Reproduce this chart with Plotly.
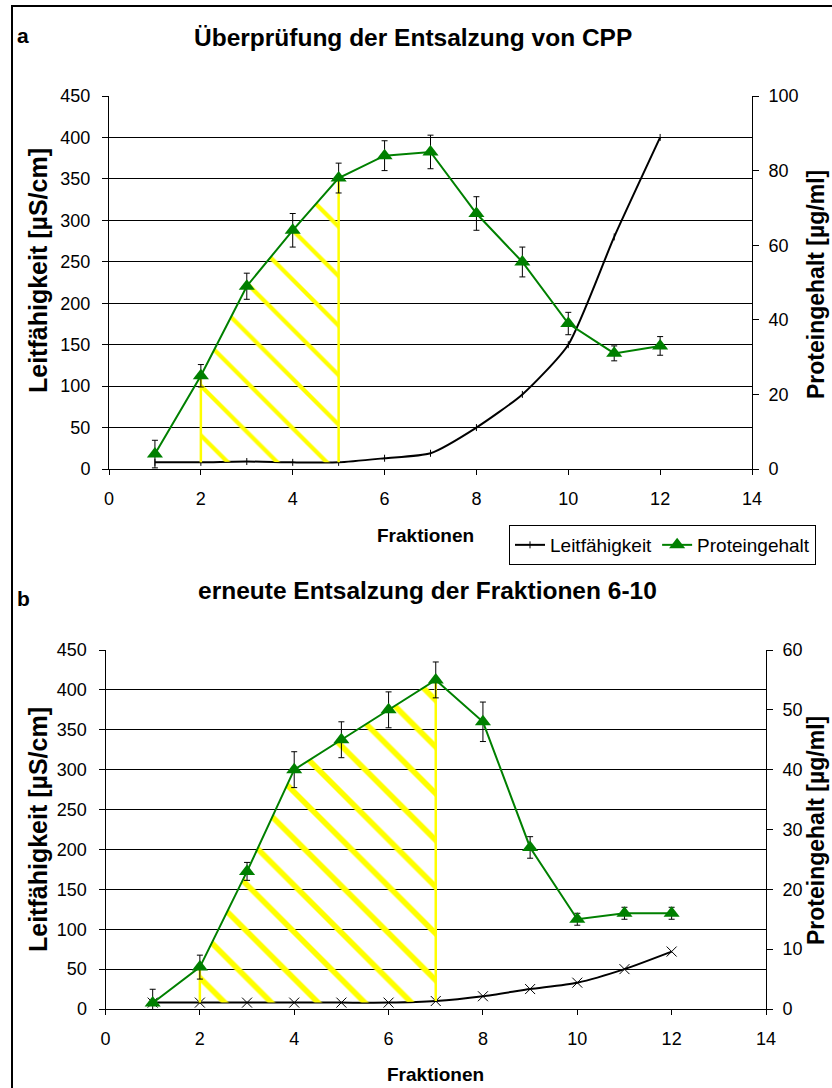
import plotly.graph_objects as go

# ---------------- data ----------------
fractions = [1, 2, 3, 4, 5, 6, 7, 8, 9, 10, 11, 12]

cond_a = [8, 8, 9, 8, 8, 13, 19, 50, 90, 150, 280, 400]
prot_a = [4, 25, 49, 64, 78, 84, 85, 68.5, 55.5, 39, 31, 33]
err_a = [3.7, 3, 3.5, 4.5, 4, 4, 4.5, 4.5, 4, 3, 2, 2.5]

cond_b = [8, 8, 8, 8, 8, 8, 10, 16, 25, 33, 50, 72]
prot_b = [1, 7, 23, 40, 45, 50, 55, 48, 27, 15, 16, 16]
err_b = [2.3, 2, 1.5, 3, 3, 3, 3, 3.3, 1.8, 1, 1, 1]

hatch_a = (2, 5)
hatch_b = (2, 7)

title_a = "Überprüfung der Entsalzung von CPP"
title_b = "erneute Entsalzung der Fraktionen 6-10"
ylab_left = "Leitfähigkeit [µS/cm]"
ylab_right = "Proteingehalt [µg/ml]"
xlab = "Fraktionen"

COND_MAX = 450
PROT_MAX_A = 100
PROT_MAX_B = 60

W, H = 832, 1088
FONT = "Liberation Sans"
GREEN = "#008000"
YELLOW = "#FFFF00"


def px(v, total):
    return v / total


fig = go.Figure()


def add_panel(cond, prot, err, hatch, xa, ya, ya2, pmax, cond_marker, show_legend, hsize, hsol):
    scale = pmax / COND_MAX
    i0 = fractions.index(hatch[0])
    i1 = fractions.index(hatch[1])
    xs_top = fractions[i0:i1 + 1]
    ys_top = prot[i0:i1 + 1]
    ys_bot = [c * scale for c in cond[i0:i1 + 1]]
    # hatched region between conductivity and protein curves
    fig.add_trace(go.Scatter(
        x=xs_top + xs_top[::-1], y=ys_top + ys_bot[::-1],
        xaxis=xa, yaxis=ya2, mode="lines", fill="toself",
        line=dict(width=0, color="rgba(0,0,0,0)"),
        fillcolor="rgba(0,0,0,0)",
        fillpattern=dict(shape="\\", fgcolor=YELLOW, fgopacity=1, bgcolor="rgba(0,0,0,0)",
                         size=hsize, solidity=hsol),
        showlegend=False, hoverinfo="skip"))
    # vertical borders of the hatched region
    for k in (i0, i1):
        fig.add_trace(go.Scatter(
            x=[fractions[k], fractions[k]], y=[cond[k] * scale, prot[k]],
            xaxis=xa, yaxis=ya2, mode="lines",
            line=dict(color=YELLOW, width=2.5),
            showlegend=False, hoverinfo="skip"))
    # conductivity
    fig.add_trace(go.Scatter(
        x=fractions, y=cond, xaxis=xa, yaxis=ya, name="Leitfähigkeit",
        mode="lines+markers", line=dict(color="black", width=2, shape="spline", smoothing=0.6),
        marker=cond_marker, showlegend=show_legend, legendrank=1))
    # protein
    fig.add_trace(go.Scatter(
        x=fractions, y=prot, xaxis=xa, yaxis=ya2, name="Proteingehalt",
        mode="lines+markers", line=dict(color=GREEN, width=2),
        marker=dict(symbol="triangle-up", size=14, color=GREEN),
        error_y=dict(type="data", array=err, visible=True, color="black",
                     thickness=1, width=3),
        showlegend=show_legend, legendrank=2))


add_panel(cond_a, prot_a, err_a, hatch_a, "x", "y", "y2", PROT_MAX_A,
          dict(symbol="line-ns", size=5, line=dict(color="black", width=1)), True, 35, 0.12)
add_panel(cond_b, prot_b, err_b, hatch_b, "x2", "y3", "y4", PROT_MAX_B,
          dict(symbol="x-thin", size=10, line=dict(color="black", width=1)), False, 33, 0.17)

tickfont = dict(family=FONT, size=18, color="black")

dom_xa = [px(109, W), px(752, W)]
dom_ya = [1 - px(469, H), 1 - px(96, H)]
dom_xb = [px(105.5, W), px(766, W)]
dom_yb = [1 - px(1009, H), 1 - px(650, H)]

xcommon = dict(range=[0, 14], dtick=2, showline=True, linecolor="black", linewidth=1,
               ticks="outside", ticklen=5, tickcolor="black", showgrid=False,
               zeroline=False, tickfont=tickfont, ticklabelstandoff=8, automargin=False)
ycommon = dict(range=[0, COND_MAX], dtick=50, showline=True, linecolor="black", linewidth=1,
               ticks="outside", ticklen=6, tickcolor="black", showgrid=True,
               gridcolor="black", gridwidth=1, zeroline=False, tickfont=tickfont,
               ticklabelstandoff=8, automargin=False)
y2common = dict(showline=True, linecolor="black", linewidth=1, ticks="outside", ticklen=6,
                tickcolor="black", showgrid=False, zeroline=False, tickfont=tickfont,
                side="right", ticklabelstandoff=6, automargin=False)

fig.update_layout(
    width=W, height=H, margin=dict(l=0, r=0, t=0, b=0, pad=0, autoexpand=False),
    paper_bgcolor="white", plot_bgcolor="white",
    font=dict(family=FONT, color="black"),
    xaxis=dict(domain=dom_xa, anchor="y", **xcommon),
    yaxis=dict(domain=dom_ya, anchor="x", **ycommon),
    yaxis2=dict(overlaying="y", anchor="x", range=[0, PROT_MAX_A], dtick=20, **y2common),
    xaxis2=dict(domain=dom_xb, anchor="y3", **xcommon),
    yaxis3=dict(domain=dom_yb, anchor="x2", **ycommon),
    yaxis4=dict(overlaying="y3", anchor="x2", range=[0, PROT_MAX_B], dtick=10, **y2common),
    legend=dict(orientation="h", x=px(509, W), y=1 - px(525, H), xanchor="left", yanchor="top",
                bordercolor="black", borderwidth=1, bgcolor="white",
                font=dict(family=FONT, size=19, color="black"),
                itemwidth=30, tracegroupgap=0, traceorder="normal"),
    showlegend=True,
)

ann = []
bold = lambda s: "<b>" + s + "</b>"
ann.append(dict(text=bold("a"), x=px(23, W), y=1 - px(35, H), font=dict(size=21)))
ann.append(dict(text=bold("b"), x=px(23, W), y=1 - px(598, H), font=dict(size=21)))
ann.append(dict(text=bold(title_a), x=px(413, W), y=1 - px(38, H), font=dict(size=24.5)))
ann.append(dict(text=bold(title_b), x=px(427, W), y=1 - px(590, H), font=dict(size=24.5)))
ann.append(dict(text=bold(xlab), x=px(425, W), y=1 - px(535, H), font=dict(size=19)))
ann.append(dict(text=bold(xlab), x=px(435, W), y=1 - px(1074, H), font=dict(size=19)))
ann.append(dict(text=bold(ylab_left), x=px(38, W), y=1 - px(271, H), textangle=-90, font=dict(size=25)))
ann.append(dict(text=bold(ylab_left), x=px(38, W), y=1 - px(830, H), textangle=-90, font=dict(size=25)))
ann.append(dict(text=bold(ylab_right), x=px(816, W), y=1 - px(285, H), textangle=-90, font=dict(size=23)))
ann.append(dict(text=bold(ylab_right), x=px(816, W), y=1 - px(831, H), textangle=-90, font=dict(size=23)))
for a in ann:
    a.update(xref="paper", yref="paper", showarrow=False, xanchor="center", yanchor="middle")
    a["font"].update(family=FONT, color="black")
fig.update_layout(annotations=ann)

# outer frame
fig.add_shape(type="rect", xref="paper", yref="paper",
              x0=px(12, W), x1=1.05, y0=-0.05, y1=1 - px(6, H),
              line=dict(color="black", width=2), fillcolor="rgba(0,0,0,0)", layer="below")

fig.write_html("out.html")
